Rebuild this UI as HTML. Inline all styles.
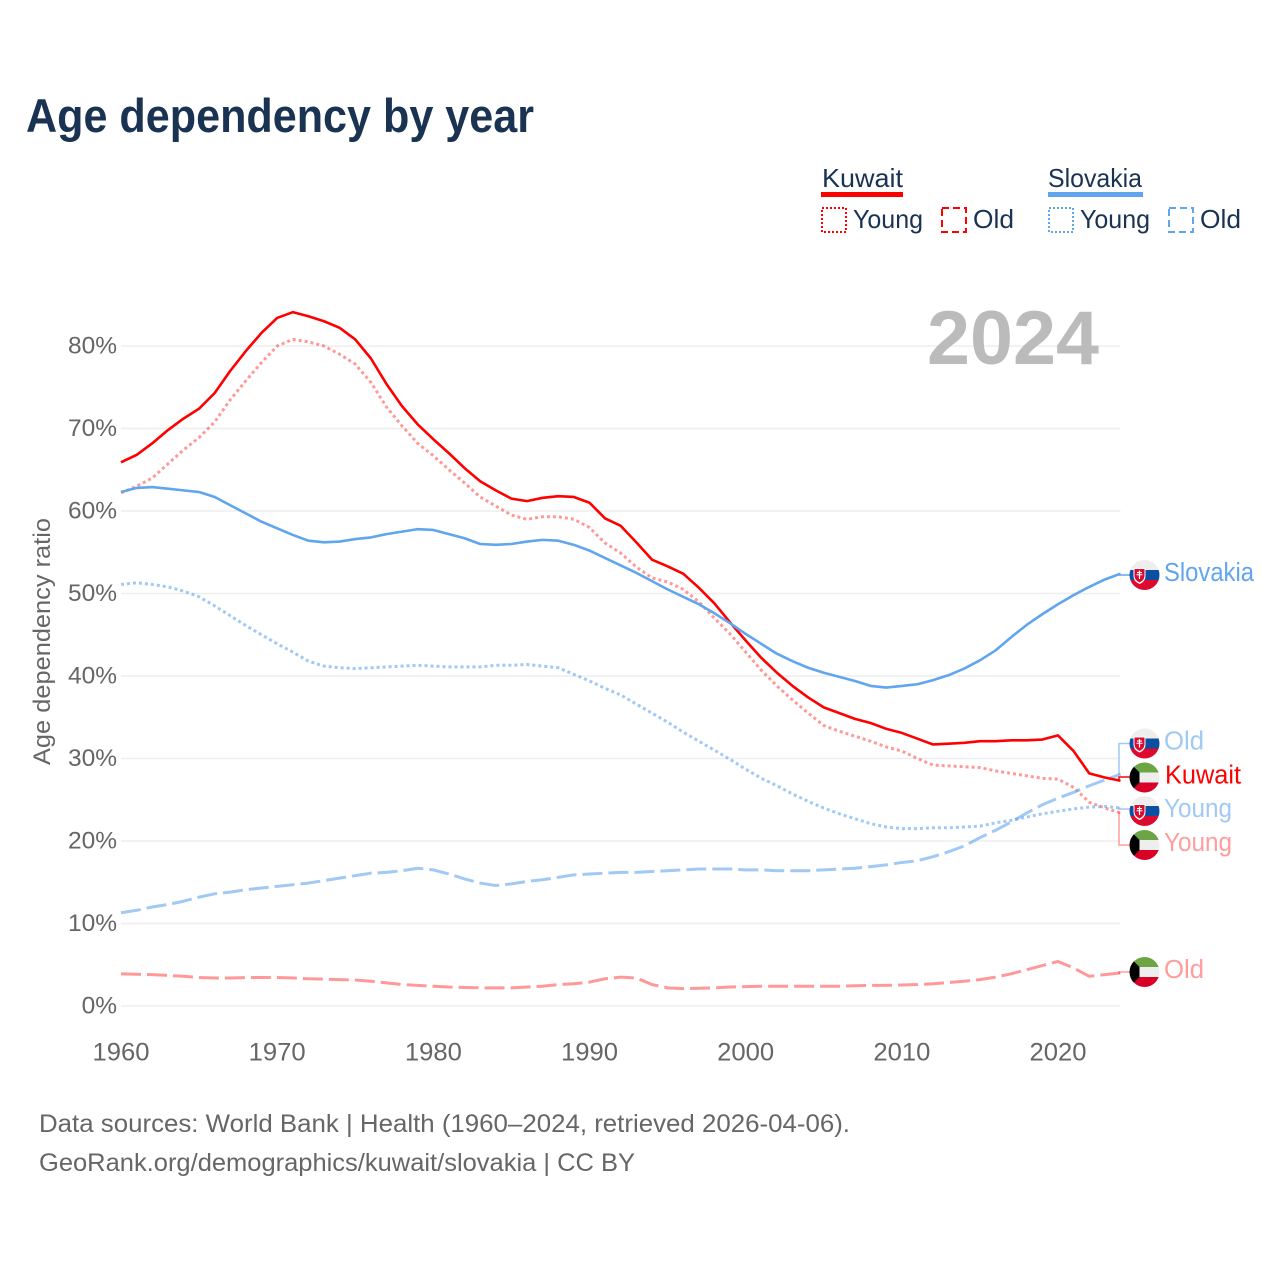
<!DOCTYPE html>
<html lang="en">
<head>
<meta charset="utf-8">
<title>Age dependency by year</title>
<style>
html,body{margin:0;padding:0;background:#fff;}
svg{display:block;font-family:"Liberation Sans",sans-serif;}
</style>
</head>
<body>
<svg id="chart" xmlns="http://www.w3.org/2000/svg" width="1280" height="1280" viewBox="0 0 1280 1280">
<defs>
<clipPath id="flag-clip"><circle cx="0" cy="0" r="15"/></clipPath>
<g id="flag-sk">
  <g clip-path="url(#flag-clip)">
    <rect x="-15" y="-15" width="30" height="10" fill="#eeeeee"/>
    <rect x="-15" y="-5" width="30" height="10" fill="#0b4ea2"/>
    <rect x="-15" y="5" width="30" height="10" fill="#dc0a2f"/>
    <path d="M-11-7H1V1Q1 6.5-5 9Q-11 6.5-11 1Z" fill="#fff"/>
    <path d="M-10-6H0V1Q0 5-5 7.5Q-10 5-10 1Z" fill="#dc0a2f"/>
    <path d="M-5.6-4.5H-4.4V-3H-2.5V-1.9H-4.4V-0.8H-2V0.3H-4.4V4H-5.6V0.3H-8V-0.8H-5.6V-1.9H-7.5V-3H-5.6Z" fill="#fff"/>
  </g>
</g>
<g id="flag-kw">
  <g clip-path="url(#flag-clip)">
    <rect x="-15" y="-15" width="30" height="10" fill="#6da544"/>
    <rect x="-15" y="-5" width="30" height="10" fill="#eeeeee"/>
    <rect x="-15" y="5" width="30" height="10" fill="#d80027"/>
    <path d="M-15-15L-5-5V5L-15 15Z" fill="#000"/>
  </g>
</g>
</defs>

<text x="26" y="132" font-size="47" font-weight="700" fill="#1a3352" textLength="508" lengthAdjust="spacingAndGlyphs">Age dependency by year</text>

<g font-size="26" fill="#1a3352">
  <text x="822" y="187" textLength="81" lengthAdjust="spacingAndGlyphs">Kuwait</text>
  <rect x="821" y="192" width="82" height="5" fill="#ff0000"/>
  <rect x="822" y="208" width="24" height="24" fill="none" stroke="#ff0000" stroke-width="2" stroke-dasharray="2 2"/>
  <text x="853" y="228" textLength="70" lengthAdjust="spacingAndGlyphs">Young</text>
  <rect x="942" y="208" width="24" height="24" fill="none" stroke="#ff0000" stroke-width="2" stroke-dasharray="7 4"/>
  <text x="973" y="228" textLength="41" lengthAdjust="spacingAndGlyphs">Old</text>
  <text x="1048" y="187" textLength="94" lengthAdjust="spacingAndGlyphs">Slovakia</text>
  <rect x="1048" y="192" width="95" height="5" fill="#60a5ee"/>
  <rect x="1049" y="208" width="24" height="24" fill="none" stroke="#60a5ee" stroke-width="2" stroke-dasharray="2 2"/>
  <text x="1080" y="228" textLength="70" lengthAdjust="spacingAndGlyphs">Young</text>
  <rect x="1169" y="208" width="24" height="24" fill="none" stroke="#60a5ee" stroke-width="2" stroke-dasharray="7 4"/>
  <text x="1200" y="228" textLength="41" lengthAdjust="spacingAndGlyphs">Old</text>
</g>

<g id="grid"></g>
<text x="927" y="364" font-size="76" font-weight="700" fill="#bbbbbb" textLength="172" lengthAdjust="spacingAndGlyphs">2024</text>
<g id="yticks"></g>
<g id="xticks"></g>
<text transform="translate(50,641.5) rotate(-90)" text-anchor="middle" font-size="24" fill="#666666" textLength="247" lengthAdjust="spacingAndGlyphs">Age dependency ratio</text>
<g id="connectors"></g>
<g id="series"></g>

<g font-size="25.5">
  <use href="#flag-sk" x="1144.5" y="575"/>
  <text x="1164" y="581" fill="#60a5ee" textLength="90" lengthAdjust="spacingAndGlyphs">Slovakia</text>
  <use href="#flag-sk" x="1144.5" y="743.5"/>
  <text x="1164" y="749.5" fill="#a0c9f4" textLength="40" lengthAdjust="spacingAndGlyphs">Old</text>
  <use href="#flag-kw" x="1144.5" y="777.5"/>
  <text x="1165" y="783.5" fill="#ff0000" textLength="76" lengthAdjust="spacingAndGlyphs">Kuwait</text>
  <use href="#flag-sk" x="1144.5" y="811"/>
  <text x="1164" y="817" fill="#a0c9f4" textLength="68" lengthAdjust="spacingAndGlyphs">Young</text>
  <use href="#flag-kw" x="1144.5" y="845"/>
  <text x="1164" y="851" fill="#ff9d9d" textLength="68" lengthAdjust="spacingAndGlyphs">Young</text>
  <use href="#flag-kw" x="1144.5" y="972"/>
  <text x="1164" y="978" fill="#ff9d9d" textLength="40" lengthAdjust="spacingAndGlyphs">Old</text>
</g>

<g font-size="25" fill="#666666">
  <text x="39" y="1132" textLength="811" lengthAdjust="spacingAndGlyphs">Data sources: World Bank | Health (1960–2024, retrieved 2026-04-06).</text>
  <text x="39" y="1171" textLength="596" lengthAdjust="spacingAndGlyphs">GeoRank.org/demographics/kuwait/slovakia | CC BY</text>
</g>
</svg>

<script>
const startYear = 1960;
const xTickYears = [1960, 1970, 1980, 1990, 2000, 2010, 2020];
const yTickValues = [0, 10, 20, 30, 40, 50, 60, 70, 80];

const kuwaitTotal = [65.9,66.8,68.2,69.8,71.2,72.4,74.3,77,79.4,81.6,83.4,84.1,83.6,83,82.2,80.8,78.5,75.4,72.7,70.5,68.7,67,65.2,63.6,62.5,61.5,61.2,61.6,61.8,61.7,61,59.1,58.2,56.2,54.1,53.3,52.4,50.7,48.8,46.5,44.3,42.2,40.4,38.8,37.4,36.2,35.5,34.8,34.3,33.6,33.1,32.4,31.7,31.8,31.9,32.1,32.1,32.2,32.2,32.3,32.8,30.9,28.2,27.7,27.3];
const kuwaitYoung = [62.2,63,64,65.7,67.4,68.9,70.8,73.5,75.8,78,80,80.8,80.5,80,79,77.8,75.6,72.6,70.3,68.2,66.7,65,63.4,61.7,60.6,59.5,59,59.3,59.3,59,58,56.1,54.9,53.2,51.9,51.4,50.5,49,47,45.1,42.9,40.7,38.8,37.1,35.5,34,33.3,32.7,32.1,31.4,30.9,30,29.2,29.1,29,28.9,28.5,28.2,27.9,27.6,27.5,26.5,24.7,24,23.4];
const kuwaitOld = [3.9,3.85,3.8,3.7,3.6,3.45,3.4,3.4,3.45,3.45,3.45,3.4,3.3,3.25,3.2,3.15,3,2.8,2.6,2.5,2.4,2.3,2.25,2.2,2.2,2.2,2.3,2.4,2.6,2.7,2.9,3.3,3.5,3.4,2.6,2.2,2.1,2.15,2.2,2.3,2.35,2.4,2.4,2.4,2.4,2.4,2.4,2.45,2.5,2.5,2.55,2.6,2.7,2.85,3,3.2,3.5,3.9,4.4,4.9,5.4,4.6,3.6,3.8,4];
const slovakiaTotal = [62.3,62.8,62.9,62.7,62.5,62.3,61.7,60.7,59.7,58.7,57.9,57.1,56.4,56.2,56.3,56.6,56.8,57.2,57.5,57.8,57.7,57.2,56.7,56,55.9,56,56.3,56.5,56.4,55.9,55.2,54.3,53.4,52.5,51.5,50.5,49.6,48.7,47.6,46.4,45.1,43.9,42.7,41.8,41,40.4,39.9,39.4,38.8,38.6,38.8,39,39.5,40.1,40.9,41.9,43.1,44.7,46.2,47.5,48.7,49.8,50.8,51.7,52.4];
const slovakiaYoung = [51.1,51.3,51.1,50.8,50.3,49.6,48.5,47.3,46.1,45,43.9,42.9,41.8,41.2,41,40.9,41,41.1,41.2,41.3,41.2,41.1,41.1,41.1,41.3,41.3,41.4,41.2,41,40.2,39.4,38.5,37.7,36.6,35.5,34.4,33.2,32.1,31,29.9,28.7,27.6,26.7,25.7,24.8,24,23.3,22.7,22.1,21.7,21.5,21.5,21.6,21.6,21.7,21.8,22.2,22.5,22.9,23.3,23.6,23.9,24.1,24.2,24];
const slovakiaOld = [11.3,11.6,12,12.3,12.7,13.2,13.6,13.8,14.1,14.3,14.5,14.7,14.9,15.2,15.5,15.8,16.1,16.2,16.4,16.7,16.5,16,15.4,14.9,14.6,14.8,15.1,15.3,15.6,15.9,16,16.1,16.2,16.2,16.3,16.4,16.5,16.6,16.6,16.6,16.5,16.5,16.4,16.4,16.4,16.5,16.6,16.7,16.9,17.1,17.4,17.6,18.1,18.7,19.4,20.4,21.3,22.3,23.4,24.4,25.2,25.9,26.7,27.4,28.1];

const NS = 'http://www.w3.org/2000/svg';
const xScale = function (year) { return 121 + (year - startYear) * 15.6167; };
const yScale = function (value) { return 1006 - value * 8.25; };
const endX = xScale(startYear + kuwaitTotal.length - 1);

function make(tag, parentId) {
  const el = document.createElementNS(NS, tag);
  document.getElementById(parentId).appendChild(el);
  return el;
}

yTickValues.forEach(function (v) {
  const line = make('line', 'grid');
  
  
  line.setAttribute('x1', 121);
  line.setAttribute('x2', endX);
  line.setAttribute('y1', yScale(v));
  line.setAttribute('y2', yScale(v));
  line.setAttribute('stroke', '#eeeeee');
  line.setAttribute('stroke-width', 1.6);

  const label = make('text', 'yticks');
  
  
  label.setAttribute('x', 117);
  label.setAttribute('y', yScale(v) + 7.5);
  label.setAttribute('text-anchor', 'end');
  label.setAttribute('font-size', 24.5);
  label.setAttribute('fill', '#666666');
  label.textContent = v + '%';
});

xTickYears.forEach(function (year) {
  const label = make('text', 'xticks');
  
  
  label.setAttribute('x', xScale(year));
  label.setAttribute('y', 1060.5);
  label.setAttribute('text-anchor', 'middle');
  label.setAttribute('font-size', 25);
  label.setAttribute('fill', '#666666');
  label.setAttribute('textLength', 57);
  label.setAttribute('lengthAdjust', 'spacingAndGlyphs');
  label.textContent = String(year);
});

function drawLine(values, name, color, width, dash, opacity) {
  const path = make('path', 'series');
  const d = values.map(function (v, i) {
    return (i ? 'L' : 'M') + xScale(startYear + i).toFixed(2) + ' ' + yScale(v).toFixed(2);
  }).join('');
  
  
  path.setAttribute('d', d);
  path.setAttribute('fill', 'none');
  path.setAttribute('stroke', color);
  path.setAttribute('stroke-width', width);
  path.setAttribute('stroke-linejoin', 'round');
  path.setAttribute('stroke-opacity', opacity);
  if (dash) path.setAttribute('stroke-dasharray', dash);
}

drawLine(kuwaitOld, 'line-kuwait-old', '#ff0000', 3, '20 6', 0.4);
drawLine(kuwaitYoung, 'line-kuwait-young', '#ff0000', 3, '3 3', 0.4);
drawLine(slovakiaOld, 'line-slovakia-old', '#60a5ee', 3, '20 6', 0.6);
drawLine(slovakiaYoung, 'line-slovakia-young', '#60a5ee', 3, '3 3', 0.6);
drawLine(kuwaitTotal, 'line-kuwait-total', '#ff0000', 2.6, '', 1);
drawLine(slovakiaTotal, 'line-slovakia-total', '#60a5ee', 2.6, '', 1);

function drawConnector(lastValue, labelY, name, color) {
  const path = make('path', 'connectors');
  const y = yScale(lastValue);
  
  
  path.setAttribute('d', 'M' + endX + ' ' + y + 'H1119V' + labelY + 'H1130');
  path.setAttribute('fill', 'none');
  path.setAttribute('stroke', color);
  path.setAttribute('stroke-width', 1.5);
}

drawConnector(slovakiaTotal[slovakiaTotal.length - 1], 575, 'connector-slovakia-total', '#60a5ee');
drawConnector(slovakiaOld[slovakiaOld.length - 1], 743.5, 'connector-slovakia-old', '#a0c9f4');
drawConnector(kuwaitTotal[kuwaitTotal.length - 1], 777, 'connector-kuwait-total', '#ff0000');
drawConnector(slovakiaYoung[slovakiaYoung.length - 1], 809, 'connector-slovakia-young', '#a0c9f4');
drawConnector(kuwaitYoung[kuwaitYoung.length - 1], 845, 'connector-kuwait-young', '#ff9d9d');
drawConnector(kuwaitOld[kuwaitOld.length - 1], 972, 'connector-kuwait-old', '#ff9d9d');
</script>
</body>
</html>
